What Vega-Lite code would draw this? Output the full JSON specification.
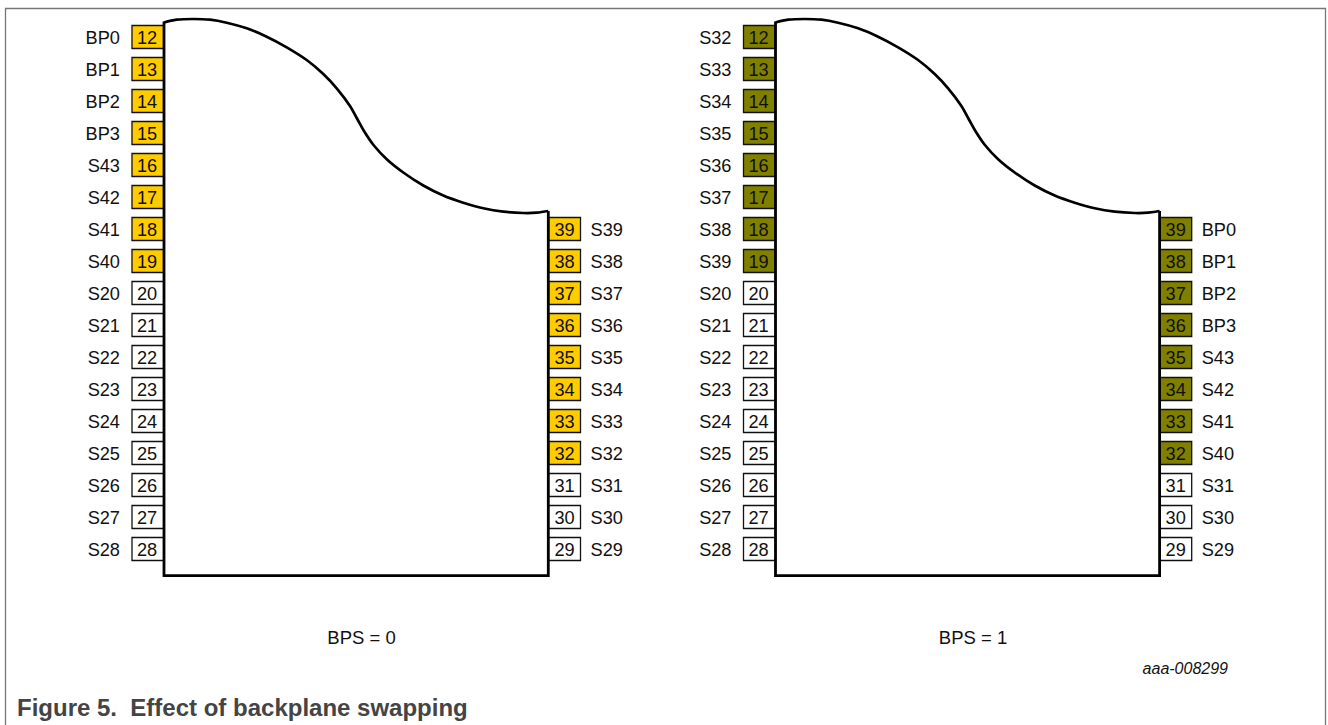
{"$schema":"https://vega.github.io/schema/vega-lite/v6.json","width":1328,"height":725,"padding":0,"autosize":{"type":"fit","contains":"padding"},"background":"white","config":{"view":{"stroke":null},"text":{"font":"Liberation Sans"}},
"datasets":{
"pins":[
{"panel":0,"side":"L","pin":12,"label":"BP0","state":"BPS0","x":148,"y":37},{"panel":0,"side":"L","pin":13,"label":"BP1","state":"BPS0","x":148,"y":69},{"panel":0,"side":"L","pin":14,"label":"BP2","state":"BPS0","x":148,"y":101},{"panel":0,"side":"L","pin":15,"label":"BP3","state":"BPS0","x":148,"y":133},{"panel":0,"side":"L","pin":16,"label":"S43","state":"BPS0","x":148,"y":165},{"panel":0,"side":"L","pin":17,"label":"S42","state":"BPS0","x":148,"y":197},{"panel":0,"side":"L","pin":18,"label":"S41","state":"BPS0","x":148,"y":229},{"panel":0,"side":"L","pin":19,"label":"S40","state":"BPS0","x":148,"y":261},{"panel":0,"side":"L","pin":20,"label":"S20","state":"off","x":148,"y":293},{"panel":0,"side":"L","pin":21,"label":"S21","state":"off","x":148,"y":325},{"panel":0,"side":"L","pin":22,"label":"S22","state":"off","x":148,"y":357},{"panel":0,"side":"L","pin":23,"label":"S23","state":"off","x":148,"y":389},{"panel":0,"side":"L","pin":24,"label":"S24","state":"off","x":148,"y":421},{"panel":0,"side":"L","pin":25,"label":"S25","state":"off","x":148,"y":453},{"panel":0,"side":"L","pin":26,"label":"S26","state":"off","x":148,"y":485},{"panel":0,"side":"L","pin":27,"label":"S27","state":"off","x":148,"y":517},{"panel":0,"side":"L","pin":28,"label":"S28","state":"off","x":148,"y":549},
{"panel":0,"side":"R","pin":39,"label":"S39","state":"BPS0","x":564.5,"y":229},{"panel":0,"side":"R","pin":38,"label":"S38","state":"BPS0","x":564.5,"y":261},{"panel":0,"side":"R","pin":37,"label":"S37","state":"BPS0","x":564.5,"y":293},{"panel":0,"side":"R","pin":36,"label":"S36","state":"BPS0","x":564.5,"y":325},{"panel":0,"side":"R","pin":35,"label":"S35","state":"BPS0","x":564.5,"y":357},{"panel":0,"side":"R","pin":34,"label":"S34","state":"BPS0","x":564.5,"y":389},{"panel":0,"side":"R","pin":33,"label":"S33","state":"BPS0","x":564.5,"y":421},{"panel":0,"side":"R","pin":32,"label":"S32","state":"BPS0","x":564.5,"y":453},{"panel":0,"side":"R","pin":31,"label":"S31","state":"off","x":564.5,"y":485},{"panel":0,"side":"R","pin":30,"label":"S30","state":"off","x":564.5,"y":517},{"panel":0,"side":"R","pin":29,"label":"S29","state":"off","x":564.5,"y":549},
{"panel":1,"side":"L","pin":12,"label":"S32","state":"BPS1","x":759.5,"y":37},{"panel":1,"side":"L","pin":13,"label":"S33","state":"BPS1","x":759.5,"y":69},{"panel":1,"side":"L","pin":14,"label":"S34","state":"BPS1","x":759.5,"y":101},{"panel":1,"side":"L","pin":15,"label":"S35","state":"BPS1","x":759.5,"y":133},{"panel":1,"side":"L","pin":16,"label":"S36","state":"BPS1","x":759.5,"y":165},{"panel":1,"side":"L","pin":17,"label":"S37","state":"BPS1","x":759.5,"y":197},{"panel":1,"side":"L","pin":18,"label":"S38","state":"BPS1","x":759.5,"y":229},{"panel":1,"side":"L","pin":19,"label":"S39","state":"BPS1","x":759.5,"y":261},{"panel":1,"side":"L","pin":20,"label":"S20","state":"off","x":759.5,"y":293},{"panel":1,"side":"L","pin":21,"label":"S21","state":"off","x":759.5,"y":325},{"panel":1,"side":"L","pin":22,"label":"S22","state":"off","x":759.5,"y":357},{"panel":1,"side":"L","pin":23,"label":"S23","state":"off","x":759.5,"y":389},{"panel":1,"side":"L","pin":24,"label":"S24","state":"off","x":759.5,"y":421},{"panel":1,"side":"L","pin":25,"label":"S25","state":"off","x":759.5,"y":453},{"panel":1,"side":"L","pin":26,"label":"S26","state":"off","x":759.5,"y":485},{"panel":1,"side":"L","pin":27,"label":"S27","state":"off","x":759.5,"y":517},{"panel":1,"side":"L","pin":28,"label":"S28","state":"off","x":759.5,"y":549},
{"panel":1,"side":"R","pin":39,"label":"BP0","state":"BPS1","x":1175.7,"y":229},{"panel":1,"side":"R","pin":38,"label":"BP1","state":"BPS1","x":1175.7,"y":261},{"panel":1,"side":"R","pin":37,"label":"BP2","state":"BPS1","x":1175.7,"y":293},{"panel":1,"side":"R","pin":36,"label":"BP3","state":"BPS1","x":1175.7,"y":325},{"panel":1,"side":"R","pin":35,"label":"S43","state":"BPS1","x":1175.7,"y":357},{"panel":1,"side":"R","pin":34,"label":"S42","state":"BPS1","x":1175.7,"y":389},{"panel":1,"side":"R","pin":33,"label":"S41","state":"BPS1","x":1175.7,"y":421},{"panel":1,"side":"R","pin":32,"label":"S40","state":"BPS1","x":1175.7,"y":453},{"panel":1,"side":"R","pin":31,"label":"S31","state":"off","x":1175.7,"y":485},{"panel":1,"side":"R","pin":30,"label":"S30","state":"off","x":1175.7,"y":517},{"panel":1,"side":"R","pin":29,"label":"S29","state":"off","x":1175.7,"y":549}
],
"curve":[
{"panel":0,"x":164,"y":22.5},{"panel":0,"x":176.7,"y":19.7},{"panel":0,"x":193.3,"y":19},{"panel":0,"x":210,"y":19.7},{"panel":0,"x":226.7,"y":22.7},{"panel":0,"x":246.7,"y":28.3},{"panel":0,"x":266.7,"y":36.7},{"panel":0,"x":286.7,"y":47.3},{"panel":0,"x":306.7,"y":60},{"panel":0,"x":323.3,"y":74},{"panel":0,"x":336.7,"y":88.3},{"panel":0,"x":350,"y":106},{"panel":0,"x":357,"y":118.5},{"panel":0,"x":364,"y":131},{"panel":0,"x":373.5,"y":145},{"panel":0,"x":387,"y":159.5},{"panel":0,"x":403.3,"y":172.5},{"panel":0,"x":423.3,"y":185.5},{"panel":0,"x":443.3,"y":195.5},{"panel":0,"x":463.3,"y":202.7},{"panel":0,"x":483.3,"y":208.3},{"panel":0,"x":503.3,"y":211.7},{"panel":0,"x":523.3,"y":213},{"panel":0,"x":536.7,"y":212.7},{"panel":0,"x":548.3,"y":211},
{"panel":1,"x":775.5,"y":22.5},{"panel":1,"x":788.1,"y":19.7},{"panel":1,"x":804.7,"y":19},{"panel":1,"x":821.4,"y":19.7},{"panel":1,"x":838.1,"y":22.7},{"panel":1,"x":858.1,"y":28.3},{"panel":1,"x":878.1,"y":36.7},{"panel":1,"x":898.1,"y":47.3},{"panel":1,"x":918.1,"y":60},{"panel":1,"x":934.7,"y":74},{"panel":1,"x":948.1,"y":88.3},{"panel":1,"x":961.4,"y":106},{"panel":1,"x":968.4,"y":118.5},{"panel":1,"x":975.4,"y":131},{"panel":1,"x":984.9,"y":145},{"panel":1,"x":998.4,"y":159.5},{"panel":1,"x":1014.7,"y":172.5},{"panel":1,"x":1034.7,"y":185.5},{"panel":1,"x":1054.7,"y":195.5},{"panel":1,"x":1074.7,"y":202.7},{"panel":1,"x":1094.7,"y":208.3},{"panel":1,"x":1114.7,"y":211.7},{"panel":1,"x":1134.7,"y":213},{"panel":1,"x":1148.1,"y":212.7},{"panel":1,"x":1159.6,"y":211}
],
"body":[
{"panel":0,"seq":1,"x":164,"y":21.5},{"panel":0,"seq":2,"x":164,"y":575.7},{"panel":0,"seq":3,"x":548.3,"y":575.7},{"panel":0,"seq":4,"x":548.3,"y":211},
{"panel":1,"seq":1,"x":775.5,"y":21.5},{"panel":1,"seq":2,"x":775.5,"y":575.7},{"panel":1,"seq":3,"x":1159.6,"y":575.7},{"panel":1,"seq":4,"x":1159.6,"y":211}
],
"frame":[{"seq":1,"x":5.5,"y":725},{"seq":2,"x":5.5,"y":8.5},{"seq":3,"x":1325.5,"y":8.5},{"seq":4,"x":1325.5,"y":725}]
},
"encoding":{
"x":{"field":"x","type":"quantitative","scale":{"domain":[0,1328],"nice":false,"zero":false},"axis":null},
"y":{"field":"y","type":"quantitative","scale":{"domain":[725,0],"nice":false,"zero":false},"axis":null}
},
"layer":[
{"data":{"name":"frame"},"mark":{"type":"line","stroke":"#777777","strokeWidth":1.3,"clip":true},"encoding":{"order":{"field":"seq"}}},
{"data":{"name":"pins"},"mark":{"type":"rect","width":32,"height":23,"stroke":"#111111","strokeWidth":1.3},"encoding":{"fill":{"field":"state","type":"nominal","scale":{"domain":["BPS0","BPS1","off"],"range":["#FFCC00","#7F7F00","#FFFFFF"]},"legend":null}}},
{"data":{"name":"curve"},"mark":{"type":"line","stroke":"#000000","strokeWidth":2.7,"interpolate":"catmull-rom"},"encoding":{"detail":{"field":"panel"}}},
{"data":{"name":"body"},"mark":{"type":"line","stroke":"#000000","strokeWidth":2.8,"strokeJoin":"miter"},"encoding":{"detail":{"field":"panel"},"order":{"field":"seq"}}},
{"data":{"name":"pins"},"transform":[{"filter":"datum.side === 'L'"}],"mark":{"type":"text","fontSize":18.2,"fill":"#111111","align":"center","baseline":"middle","dx":-1,"dy":1.5},"encoding":{"text":{"field":"pin","type":"nominal"}}},
{"data":{"name":"pins"},"transform":[{"filter":"datum.side === 'R'"}],"mark":{"type":"text","fontSize":18.2,"fill":"#111111","align":"center","baseline":"middle","dy":1.5},"encoding":{"text":{"field":"pin","type":"nominal"}}},
{"data":{"name":"pins"},"transform":[{"filter":"datum.side === 'L'"}],"mark":{"type":"text","fontSize":18.2,"fill":"#111111","align":"right","baseline":"middle","dx":-28,"dy":1.5},"encoding":{"text":{"field":"label","type":"nominal"}}},
{"data":{"name":"pins"},"transform":[{"filter":"datum.side === 'R'"}],"mark":{"type":"text","fontSize":18.2,"fill":"#111111","align":"left","baseline":"middle","dx":26,"dy":1.5},"encoding":{"text":{"field":"label","type":"nominal"}}},
{"data":{"values":[{"t":"BPS = 0","x":361.5,"y":638},{"t":"BPS = 1","x":973,"y":638}]},"mark":{"type":"text","fontSize":18.5,"fill":"#111111","align":"center","baseline":"middle"},"encoding":{"text":{"field":"t","type":"nominal"}}},
{"data":{"values":[{"t":"aaa-008299","x":1228,"y":669}]},"mark":{"type":"text","fontSize":16,"fontStyle":"italic","fill":"#111111","align":"right","baseline":"middle"},"encoding":{"text":{"field":"t","type":"nominal"}}},
{"data":{"values":[{"t":"Figure 5.\u00a0 Effect of backplane swapping","x":17,"y":709}]},"mark":{"type":"text","fontSize":24,"fontWeight":"bold","fill":"#444444","align":"left","baseline":"middle"},"encoding":{"text":{"field":"t","type":"nominal"}}}
]}
